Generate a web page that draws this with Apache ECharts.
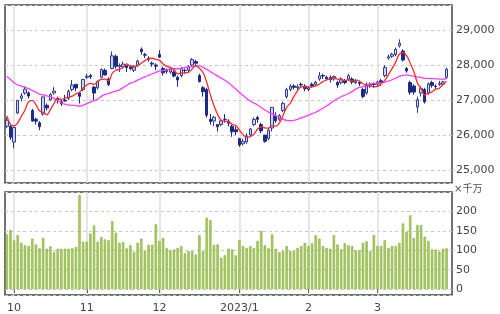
<!DOCTYPE html>
<html><head><meta charset="utf-8">
<script src="https://cdn.jsdelivr.net/npm/echarts@6/dist/echarts.min.js"></script>
<style>html,body{margin:0;padding:0;background:#fff}#c{width:500px;height:314px}</style>
</head><body><div id="c"></div><script>
const dates = ['2022/9/29','2022/9/30',
'2022/10/3','2022/10/4','2022/10/5','2022/10/6','2022/10/7','2022/10/11','2022/10/12','2022/10/13','2022/10/14','2022/10/17','2022/10/18','2022/10/19','2022/10/20','2022/10/21','2022/10/24','2022/10/25','2022/10/26','2022/10/27','2022/10/28','2022/10/31',
'2022/11/1','2022/11/2','2022/11/4','2022/11/7','2022/11/8','2022/11/9','2022/11/10','2022/11/11','2022/11/14','2022/11/15','2022/11/16','2022/11/17','2022/11/18','2022/11/21','2022/11/22','2022/11/24','2022/11/25','2022/11/28','2022/11/29','2022/11/30',
'2022/12/1','2022/12/2','2022/12/5','2022/12/6','2022/12/7','2022/12/8','2022/12/9','2022/12/12','2022/12/13','2022/12/14','2022/12/15','2022/12/16','2022/12/19','2022/12/20','2022/12/21','2022/12/22','2022/12/23','2022/12/26','2022/12/27','2022/12/28','2022/12/29','2022/12/30',
'2023/1/4','2023/1/5','2023/1/6','2023/1/10','2023/1/11','2023/1/12','2023/1/13','2023/1/16','2023/1/17','2023/1/18','2023/1/19','2023/1/20','2023/1/23','2023/1/24','2023/1/25','2023/1/26','2023/1/27','2023/1/30','2023/1/31',
'2023/2/1','2023/2/2','2023/2/3','2023/2/6','2023/2/7','2023/2/8','2023/2/9','2023/2/10','2023/2/13','2023/2/14','2023/2/15','2023/2/16','2023/2/17','2023/2/20','2023/2/21','2023/2/22','2023/2/24','2023/2/27','2023/2/28',
'2023/3/1','2023/3/2','2023/3/3','2023/3/6','2023/3/7','2023/3/8','2023/3/9','2023/3/10','2023/3/13','2023/3/14','2023/3/15','2023/3/16','2023/3/17','2023/3/20','2023/3/22','2023/3/23','2023/3/24','2023/3/27','2023/3/28','2023/3/29',
'2023/3/30'];

const opens = [26250,26250,
25800,26630,27050,27200,27200,26700,26450,26350,26600,26850,27000,27200,27050,26950,27000,27050,27300,27450,27200,27300,
27650,27700,27370,27350,27650,27850,27600,27900,28250,27950,27950,27980,27950,27850,27980,28450,28300,28200,28050,28000,
28300,27900,27850,27800,27800,27650,27700,27850,27850,28000,28100,27700,27350,27300,26450,26400,26300,26300,26450,26400,26250,26150,
25900,25750,25800,26000,26300,26500,26300,26000,25900,26200,26550,26450,26700,27100,27300,27400,27350,27450,27400,
27300,27450,27450,27600,27700,27650,27650,27600,27500,27500,27550,27600,27600,27500,27500,27300,27200,27450,27450,
27450,27550,27700,28200,28250,28300,28550,28400,27900,27500,27400,26800,27200,27300,27200,27500,27400,27450,27450,27650];

const closes = [26422,25937,
26215,26992,27120,27311,27116,26401,26397,26237,27090,26775,27156,27257,27006,26890,26974,27250,27431,27345,27105,27587,
27678,27663,27199,27527,27872,27716,27446,28263,27963,27990,28028,27930,27899,27944,28115,28383,28283,28162,28027,27968,
28226,27777,27820,27885,27686,27574,27901,27842,27954,28156,28051,27527,27237,26568,26387,26507,26235,26405,26447,26340,26093,26094,
25716,25820,25973,26175,26446,26449,26119,25822,26138,26791,26405,26553,26906,27299,27395,27362,27382,27433,27327,
27346,27402,27509,27693,27685,27606,27584,27670,27427,27602,27501,27696,27513,27531,27473,27104,27453,27423,27445,
27516,27498,27927,28237,28309,28444,28623,28143,27832,27222,27229,27010,27333,26945,27466,27419,27385,27476,27518,27883];

const lows = [26200,25860,
25621,26600,26960,27150,27050,26380,26300,26140,26550,26700,26980,27150,26900,26830,26950,27000,27250,27250,26900,27250,
27600,27600,27000,27300,27620,27700,27400,27880,27900,27800,27900,27800,27850,27800,27950,28300,28200,28100,27950,27850,
28200,27700,27750,27750,27650,27380,27650,27750,27800,27950,27950,27500,27100,26500,26300,26250,26100,26250,26350,26250,25950,26000,
25661,25700,25750,25950,26250,26350,26050,25780,25850,26100,26350,26400,26650,27050,27250,27300,27300,27350,27250,
27250,27350,27400,27550,27600,27550,27500,27550,27350,27450,27450,27550,27450,27450,27400,27050,27150,27350,27350,
27400,27400,27650,28150,28200,28250,28500,28100,27780,27150,27150,26632,27100,26900,27150,27350,27300,27400,27400,27600];

const highs = [26500,26300,
26250,27000,27200,27400,27250,26750,26500,26400,27100,26900,27200,27370,27100,27000,27150,27300,27570,27450,27200,27600,
27750,27750,27400,27560,27900,27900,27650,28390,28300,28050,28100,28000,28000,28000,28150,28502,28350,28250,28100,28050,
28423,27950,27900,27950,27850,27700,27950,27900,28000,28200,28150,27750,27400,27350,26600,26550,26300,26450,26600,26450,26300,26250,
25900,25900,26050,26200,26500,26550,26350,26000,26200,26800,26650,26600,26950,27350,27450,27450,27450,27500,27450,
27400,27500,27550,27800,27750,27700,27700,27700,27550,27650,27600,27750,27650,27600,27550,27350,27500,27500,27500,
27550,27600,28000,28300,28350,28500,28734,28450,27950,27550,27450,27100,27400,27350,27500,27550,27450,27550,27550,27920];

// closes of the trading days just before the visible range (for the moving averages)
const priorCloses = [28313,28479,28641,27878,28195,28091,27661,27650,27619,27626,27430,28065,28214,28542,28614,27818,27875,27567,27688,27313,27153,26431,26571,26173];

const volumes = [141,152,
126,139,119,113,111,130,115,105,132,104,110,95,104,104,104,104,105,108,242,122,
122,143,164,122,134,128,126,175,145,119,121,105,113,96,119,130,98,114,114,167,
124,132,106,100,102,106,111,92,98,98,89,139,98,184,178,114,115,81,87,104,102,87,
126,111,106,111,106,124,150,113,105,141,104,95,98,111,98,98,106,111,119,
111,118,139,130,111,106,104,139,115,102,118,113,111,100,100,119,123,98,139,
111,111,126,106,111,111,119,169,148,190,132,165,165,135,124,102,102,97,104,105];

const tickDates = ['2022/10/3','2022/11/1','2022/12/1','2023/1/4','2023/2/1','2023/3/1'];
const tickLabels = ['10','11','12','2023/1','2','3'];

const yPriceRange = [24630, 29715];
const yVolRange = [-15, 250];

function movingAverage(n) {
  const all = priorCloses.concat(closes);
  const off = priorCloses.length;
  const out = closes.map((_, i) => {
    const j = i + off;
    let s = 0;
    for (let k = j - n + 1; k <= j; k++) s += all[k];
    return +(s / n).toFixed(1);
  });
  while (out.length < dates.length) out.push('-');
  return out;
}

const candleData = dates.map((d, i) => i < closes.length ? [opens[i], closes[i], lows[i], highs[i]] : '-');
const volData = dates.map((d, i) => i < volumes.length ? volumes[i] : '-');
const isTick = (idx, val) => tickDates.indexOf(val) >= 0;

const FONT = 'DejaVu Sans, Noto Sans CJK JP, sans-serif';
const chart = echarts.init(document.getElementById('c'), null, {renderer: 'canvas'});
chart.setOption({
  animation: false,
  backgroundColor: '#fff',
  grid: [
    {left: 5, top: 5, width: 447, height: 178, show: true, borderColor: '#444', borderWidth: 1.5, backgroundColor: 'transparent'},
    {left: 5, top: 192, width: 447, height: 103, show: true, borderColor: '#444', borderWidth: 1.5, backgroundColor: 'transparent'}
  ],
  xAxis: [
    {type: 'category', data: dates, gridIndex: 0, boundaryGap: true,
     axisLine: {show: false}, axisTick: {show: false}, axisLabel: {show: false},
     splitLine: {show: true, interval: isTick, alignWithLabel: true, lineStyle: {color: '#dcdcdc', width: 1.5}}},
    {type: 'category', data: dates, gridIndex: 1, boundaryGap: true,
     axisLine: {show: false},
     axisTick: {show: true, interval: isTick, alignWithLabel: true, length: 4, lineStyle: {color: '#666'}},
     axisLabel: {show: true, interval: isTick, formatter: v => tickLabels[tickDates.indexOf(v)] || '', color: '#444', fontSize: 11, fontFamily: FONT, margin: 8},
     splitLine: {show: true, interval: isTick, alignWithLabel: true, lineStyle: {color: '#dcdcdc', width: 1.5}}}
  ],
  yAxis: [
    {type: 'value', gridIndex: 0, position: 'right', min: yPriceRange[0], max: yPriceRange[1], splitNumber: 5,
     axisLine: {show: false}, axisTick: {show: false},
     axisLabel: {showMinLabel: false, showMaxLabel: false, color: '#444', fontSize: 11, fontFamily: FONT, margin: 4},
     splitLine: {show: true, lineStyle: {color: '#c8c8c8', type: [3, 3], width: 1}}},
    {type: 'value', gridIndex: 1, position: 'right', min: yVolRange[0], max: yVolRange[1], splitNumber: 5,
     axisLine: {show: false}, axisTick: {show: false},
     axisLabel: {showMinLabel: false, showMaxLabel: false, color: '#444', fontSize: 11, fontFamily: FONT, margin: 4,
       formatter: v => (v >= 0 && v <= 200) ? String(v) : ''},
     splitLine: {show: true, lineStyle: {color: '#c8c8c8', type: [3, 3], width: 1}}}
  ],
  graphic: [{type: 'text', left: 454, top: 184, style: {text: '×千万', fontSize: 10, fill: '#555', fontFamily: FONT}}],
  series: [
    {type: 'candlestick', xAxisIndex: 0, yAxisIndex: 0, data: candleData, barWidth: 3,
     itemStyle: {color: '#cdd3f0', color0: '#1c2b84', borderColor: '#2e3e94', borderColor0: '#1c2b84', borderWidth: 1}},
    {type: 'line', xAxisIndex: 0, yAxisIndex: 0, data: movingAverage(25), showSymbol: false, smooth: 0.4,
     lineStyle: {color: '#ff3cff', width: 1.3}, z: 3},
    {type: 'line', xAxisIndex: 0, yAxisIndex: 0, data: movingAverage(5), showSymbol: false, smooth: 0.4,
     lineStyle: {color: '#ff2a2a', width: 1.3}, z: 4},
    {type: 'bar', xAxisIndex: 1, yAxisIndex: 1, data: volData, barWidth: 2.4,
     itemStyle: {color: '#a9cc63', borderColor: '#86ad3a', borderWidth: 0.6}}
  ]
});
</script></body></html>
